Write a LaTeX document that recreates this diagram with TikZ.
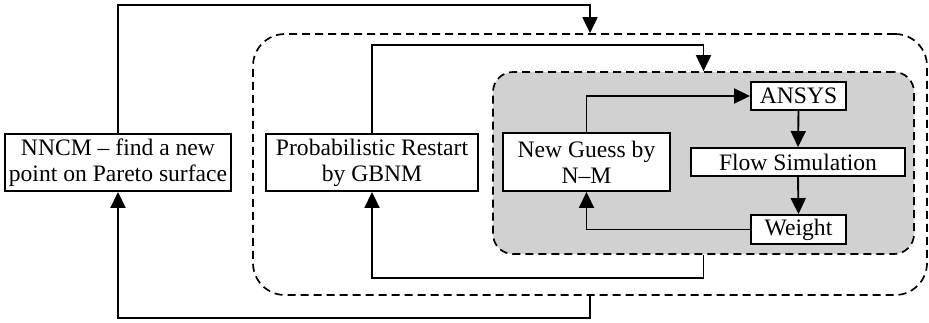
\documentclass[tikz,border=0pt]{standalone}
\usepackage{fontspec}
\setmainfont{Liberation Serif}
\usetikzlibrary{arrows.meta}

\begin{document}
\begin{tikzpicture}[x=0.5pt, y=-0.5pt,
  box/.style={draw, fill=white, line width=0.95pt, inner sep=0pt, align=center, font=\fontsize{11.8}{13}\selectfont},
  loopbox/.style={draw, dash pattern=on 4pt off 2.5pt, line width=0.85pt, rounded corners=16pt, inner sep=0pt},
  link/.style={line width=0.95pt, -{Triangle[length=8pt,width=7.5pt]}}
]
  \useasboundingbox (0,0) rectangle (929,322);
  % the two dashed loops
  \node[loopbox, minimum width=337pt, minimum height=130.5pt] (outer) at (590,164.5) {};
  \node[loopbox, fill=black!18, rounded corners=10pt, minimum width=210.5pt, minimum height=91pt] (inner) at (703.5,163) {};

  \node[box, minimum width=113pt, minimum height=28.5pt] (nncm) at (118,162.5) {NNCM -- find a new\\point on Pareto surface};
  \node[box, minimum width=106pt, minimum height=28.5pt] (restart) at (372,162.5) {Probabilistic Restart\\by GBNM};
  \node[box, minimum width=83.5pt, minimum height=29pt] (guess) at (586.5,162) {New Guess by\\N--M};
  \node[box, minimum width=47.5pt, minimum height=14pt] (ansys) at (798.5,96) {ANSYS};
  \node[box, minimum width=107pt, minimum height=14pt] (flow) at (798,162) {Flow Simulation};
  \node[box, minimum width=47.5pt, minimum height=14.5pt] (weight) at (798.5,229.5) {Weight};

  % outer loop
  \draw[link] (nncm.north) |- ([yshift=14pt]outer.north) -- (outer.north);
  \draw[link] (outer.south) -- ([yshift=-11pt]outer.south) -| (nncm.south);
  % restart loop
  \draw[link] (restart.north) |- ([yshift=13pt]inner.north) -- (inner.north);
  \draw[link] (inner.south) -- ([yshift=-11.5pt]inner.south) -| (restart.south);
  % inner N-M loop
  \draw[link] (guess.north) |- (ansys.west);
  \draw[link] (ansys.south) -- (flow.north);
  \draw[link] (flow.south) -- (weight.north);
  \draw[link] (weight.west) -| (guess.south);
\end{tikzpicture}
\end{document}
